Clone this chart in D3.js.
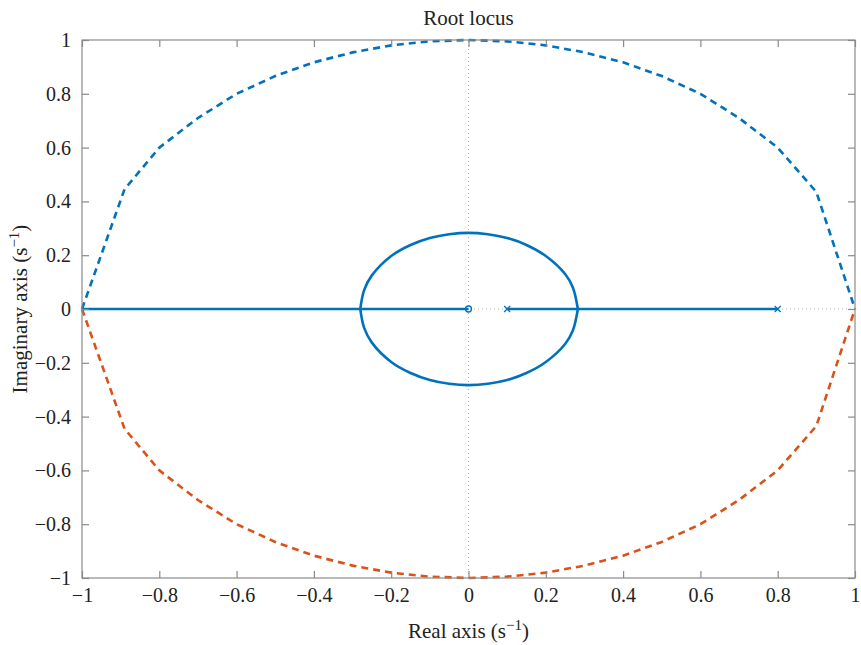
<!DOCTYPE html>
<html><head><meta charset="utf-8">
<script src="https://cdn.jsdelivr.net/npm/d3@7"></script>
<style>body{margin:0;background:#fff}svg{display:block}text{font-family:"Liberation Serif","DejaVu Serif",serif;fill:#222}</style>
</head><body><svg id="c" width="861" height="645"></svg>
<script>
// Data
const xTicks = [-1,-0.8,-0.6,-0.4,-0.2,0,0.2,0.4,0.6,0.8,1];
const yTicks = [-1,-0.8,-0.6,-0.4,-0.2,0,0.2,0.4,0.6,0.8,1];
// unit circle boundary (upper half)
const boundaryX = [-1,-0.89,-0.8,-0.7,-0.6,-0.5,-0.4,-0.3,-0.2,-0.1,0,0.1,0.2,0.3,0.4,0.5,0.6,0.7,0.8,0.9,1];
const boundaryY = [0,0.445,0.6,0.71,0.8,0.866,0.917,0.954,0.98,0.995,1,0.995,0.98,0.954,0.917,0.866,0.8,0.71,0.6,0.435,0];
// locus circle around the zero
const locusCX = [-0.28,-0.27,-0.25,-0.2,-0.15,-0.1,-0.05,0,0.05,0.1,0.15,0.2,0.25,0.27,0.283];
const locusCY = [0,0.07,0.125,0.197,0.238,0.264,0.278,0.283,0.278,0.264,0.238,0.197,0.13,0.08,0];
// real-axis branches
const branch1 = [-1,0];
const branch2 = [0.1,0.8];
const zeros = [0];
const poles = [0.1,0.8];

const svg = d3.select("#c");
const L=82,R=855,T=40,B=578;
const x = d3.scaleLinear().domain([-1,1]).range([L,R]);
const y = d3.scaleLinear().domain([-1,1]).range([B,T]);
const fmt = d => d===0?"0":(d<0?"−":"")+String(Math.abs(d));

// dotted axes through origin
svg.append("line").attr("x1",x(-1)).attr("x2",x(1)).attr("y1",y(0)).attr("y2",y(0))
  .attr("stroke","#b0b0b0").attr("stroke-width",1).attr("stroke-dasharray","1,3");
svg.append("line").attr("x1",x(0)).attr("x2",x(0)).attr("y1",y(-1)).attr("y2",y(1))
  .attr("stroke","#b0b0b0").attr("stroke-width",1).attr("stroke-dasharray","1,3");

const line = d3.line().x(d=>x(d[0])).y(d=>y(d[1]));
const upper = boundaryX.map((v,i)=>[v,boundaryY[i]]);
const lower = boundaryX.map((v,i)=>[v,-boundaryY[i]]);
svg.append("path").attr("d",line(upper)).attr("fill","none").attr("stroke","#0072BD").attr("stroke-width",2.6).attr("stroke-dasharray","7,5");
svg.append("path").attr("d",line(lower)).attr("fill","none").attr("stroke","#D95319").attr("stroke-width",2.6).attr("stroke-dasharray","7,5");

const cline = d3.line().x(d=>x(d[0])).y(d=>y(d[1])).curve(d3.curveCatmullRom);
const cu = locusCX.map((v,i)=>[v,locusCY[i]]);
const cl = locusCX.map((v,i)=>[v,-locusCY[i]]);
[cu,cl].forEach(p=>svg.append("path").attr("d",cline(p)).attr("fill","none").attr("stroke","#0072BD").attr("stroke-width",2.6));
[branch1,branch2].forEach(b=>svg.append("line").attr("x1",x(b[0])).attr("x2",x(b[1])).attr("y1",y(0)).attr("y2",y(0)).attr("stroke","#0072BD").attr("stroke-width",2.6));

zeros.forEach(z=>svg.append("circle").attr("cx",x(z)).attr("cy",y(0)).attr("r",3).attr("fill","none").attr("stroke","#0072BD").attr("stroke-width",1.3));
poles.forEach(p=>{
  const g=svg.append("g").attr("transform",`translate(${x(p)},${y(0)})`);
  g.append("path").attr("d","M-3,-3L3,3M-3,3L3,-3").attr("stroke","#0072BD").attr("stroke-width",1.3);
});

// box and ticks
const axc="#8a8a8a";
svg.append("rect").attr("x",L).attr("y",T).attr("width",R-L).attr("height",B-T).attr("fill","none").attr("stroke",axc).attr("stroke-width",1.2);
const axB=d3.axisBottom(x).tickValues(xTicks).tickSize(-7).tickPadding(10).tickFormat(fmt);
const axL=d3.axisLeft(y).tickValues(yTicks).tickSize(-7).tickPadding(11).tickFormat(fmt);
const axT=d3.axisTop(x).tickValues(xTicks).tickSize(-7).tickFormat("");
const axR=d3.axisRight(y).tickValues(yTicks).tickSize(-7).tickFormat("");
function style(g){g.select(".domain").remove();g.selectAll("line").attr("stroke",axc).attr("stroke-width",1.2);g.selectAll("text").attr("font-family","Liberation Serif").attr("font-size",20).attr("fill","#222");}
svg.append("g").attr("transform",`translate(0,${B})`).call(axB).call(style);
svg.append("g").attr("transform",`translate(0,${T})`).call(axT).call(style);
svg.append("g").attr("transform",`translate(${R},0)`).call(axR).call(style);
svg.append("g").attr("transform",`translate(${L},0)`).call(axL).call(style);

svg.append("text").attr("x",(L+R)/2).attr("y",25).attr("text-anchor","middle").attr("font-size",21).text("Root locus");
const xl=svg.append("text").attr("x",(L+R)/2).attr("y",638).attr("text-anchor","middle").attr("font-size",21);
xl.append("tspan").text("Real axis (s");
xl.append("tspan").attr("dy",-8).attr("font-size",15).text("−1");
xl.append("tspan").attr("dy",8).text(")");
const yl=svg.append("text").attr("transform",`translate(27,${(T+B)/2}) rotate(-90)`).attr("text-anchor","middle").attr("font-size",21);
yl.append("tspan").text("Imaginary axis (s");
yl.append("tspan").attr("dy",-8).attr("font-size",15).text("−1");
yl.append("tspan").attr("dy",8).text(")");
</script></body></html>
